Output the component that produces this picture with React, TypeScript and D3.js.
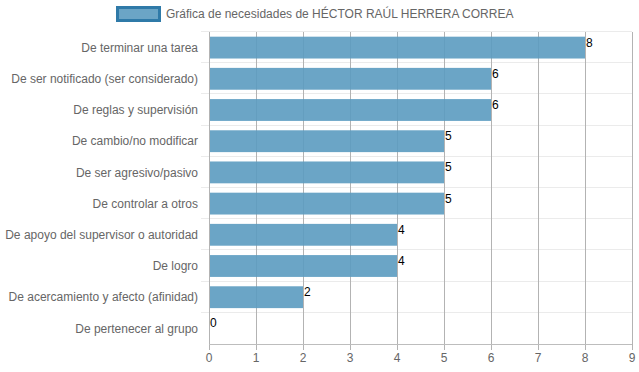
import * as d3 from 'd3'
import { useEffect, useRef } from 'react'

const categories = [
  'De terminar una tarea',
  'De ser notificado (ser considerado)',
  'De reglas y supervisión',
  'De cambio/no modificar',
  'De ser agresivo/pasivo',
  'De controlar a otros',
  'De apoyo del supervisor o autoridad',
  'De logro',
  'De acercamiento y afecto (afinidad)',
  'De pertenecer al grupo',
]
const values = [8, 6, 6, 5, 5, 5, 4, 4, 2, 0]
const xTicks = [0, 1, 2, 3, 4, 5, 6, 7, 8, 9]
const legendLabel = 'Gráfica de necesidades de HÉCTOR RAÚL HERRERA CORREA'

export default function App() {
  const svgRef = useRef<SVGSVGElement>(null)

  useEffect(() => {
    document.body.style.margin = '0'
    document.body.style.overflow = 'hidden'
    if (!svgRef.current) return
    const W = 639
    const H = 372
    const margin = { top: 32, right: 7, bottom: 28, left: 209 }
    const font = '"Liberation Sans", Arial, sans-serif'

    const svg = d3.select(svgRef.current)
    svg.selectAll('*').remove()

    const x = d3.scaleLinear().domain([0, 9]).range([margin.left, W - margin.right])
    const y = d3.scaleBand().domain(categories).range([margin.top, H - margin.bottom])

    // horizontal grid (category boundaries)
    const bounds = categories.map((c) => y(c) as number)
    svg
      .append('g')
      .selectAll('line')
      .data(bounds)
      .enter()
      .append('line')
      .attr('x1', margin.left - 8)
      .attr('x2', W - margin.right)
      .attr('y1', (d) => Math.round(d) - 0.5)
      .attr('y2', (d) => Math.round(d) - 0.5)
      .attr('stroke', '#ebebeb')

    // vertical grid
    svg
      .append('g')
      .selectAll('line')
      .data(xTicks)
      .enter()
      .append('line')
      .attr('x1', (d) => Math.round(x(d)) + 0.5)
      .attr('x2', (d) => Math.round(x(d)) + 0.5)
      .attr('y1', margin.top)
      .attr('y2', H - margin.bottom + 6)
      .attr('stroke', '#b3b3b3')

    // bars
    const bh = y.bandwidth() * 0.7
    svg
      .append('g')
      .selectAll('rect')
      .data(values)
      .enter()
      .append('rect')
      .attr('x', x(0) + 1)
      .attr('y', (d, i) => (y(categories[i]) as number) + (y.bandwidth() - bh) / 2)
      .attr('width', (d) => Math.max(0, x(d) - x(0) - 1))
      .attr('height', bh)
      .attr('fill', 'rgba(91, 155, 192, 0.9)')

    // x axis line
    svg
      .append('line')
      .attr('x1', margin.left)
      .attr('x2', W - margin.right)
      .attr('y1', H - margin.bottom + 0.5)
      .attr('y2', H - margin.bottom + 0.5)
      .attr('stroke', '#bdbdbd')

    // x tick labels
    svg
      .append('g')
      .selectAll('text')
      .data(xTicks)
      .enter()
      .append('text')
      .attr('x', (d) => x(d))
      .attr('y', H - margin.bottom + 18)
      .attr('text-anchor', 'middle')
      .attr('font-family', font)
      .attr('font-size', 12)
      .attr('fill', '#666')
      .text((d) => d)

    // y labels
    svg
      .append('g')
      .selectAll('text')
      .data(categories)
      .enter()
      .append('text')
      .attr('x', margin.left - 11)
      .attr('y', (d) => (y(d) as number) + y.bandwidth() / 2)
      .attr('dy', '0.35em')
      .attr('text-anchor', 'end')
      .attr('font-family', font)
      .attr('font-size', 12)
      .attr('fill', '#666')
      .text((d) => d)

    // value labels
    svg
      .append('g')
      .selectAll('text')
      .data(values)
      .enter()
      .append('text')
      .attr('x', (d) => x(d) + 1)
      .attr('y', (d, i) => (y(categories[i]) as number) + y.bandwidth() / 2 - 1)
      .attr('font-family', font)
      .attr('font-size', 12)
      .attr('fill', '#000')
      .text((d) => d)

    // legend
    svg
      .append('rect')
      .attr('x', 117.5)
      .attr('y', 7.5)
      .attr('width', 42)
      .attr('height', 13)
      .attr('fill', 'rgba(91, 155, 192, 0.9)')
      .attr('stroke', '#2f7aa8')
      .attr('stroke-width', 3)
    svg
      .append('text')
      .attr('x', 166)
      .attr('y', 14)
      .attr('dy', '0.35em')
      .attr('font-family', font)
      .attr('font-size', 12)
      .attr('fill', '#666')
      .text(legendLabel)
  }, [])

  return (
    <svg
      ref={svgRef}
      width={639}
      height={372}
      style={{ display: 'block', position: 'absolute', left: 0, top: 0 }}
    />
  )
}
